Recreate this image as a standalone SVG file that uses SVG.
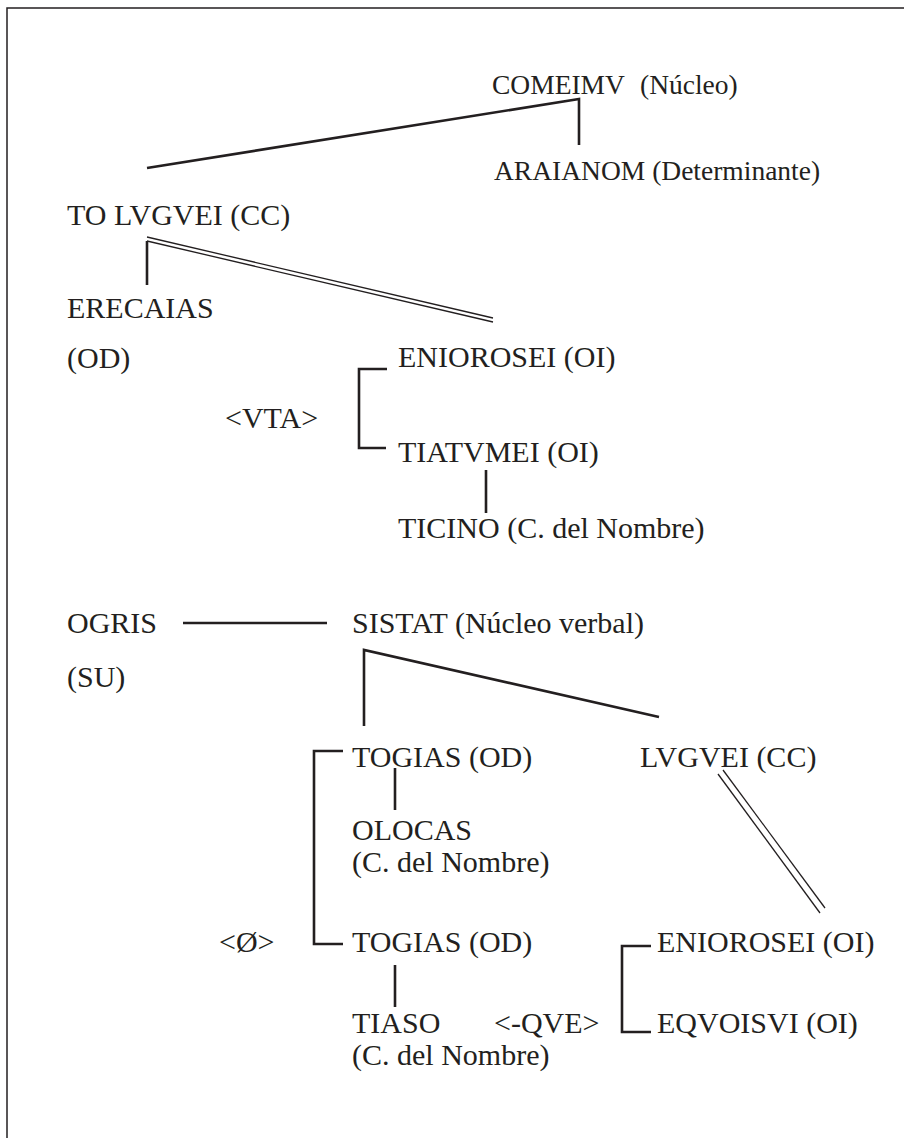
<svg xmlns="http://www.w3.org/2000/svg" width="904" height="1138" viewBox="0 0 904 1138">
<style>
text{font-family:"Liberation Serif","Times New Roman",serif;font-size:30px;fill:#231f20}
.t{font-size:27.5px}
.l{stroke:#231f20;stroke-width:2.6;fill:none;stroke-linecap:butt}
.d{stroke:#231f20;stroke-width:1.3;fill:none}
</style>
<rect x="7" y="8" width="920" height="1150" fill="#fff" stroke="#231f20" stroke-width="1.5"/>
<g id="connectors">
<polyline class="l" points="147,168 579,99 579,145"/>
<line class="d" x1="147" y1="237" x2="493" y2="318"/>
<line class="d" x1="147" y1="241" x2="493" y2="322"/>
<line class="l" x1="147" y1="241" x2="147" y2="285"/>
<polyline class="l" points="387,369 359,369 359,448 386,448"/>
<line class="l" x1="486" y1="470" x2="486" y2="513"/>
<line class="l" x1="183" y1="623" x2="327" y2="623"/>
<polyline class="l" points="364,726 364,650 659,717"/>
<polyline class="l" points="343,751 314,751 314,944 343,944"/>
<line class="l" x1="395" y1="768" x2="395" y2="810"/>
<line class="d" x1="718" y1="774" x2="820" y2="913"/>
<line class="d" x1="723" y1="770" x2="825" y2="908"/>
<line class="l" x1="395" y1="965" x2="395" y2="1007"/>
<polyline class="l" points="651,946 622,946 622,1032 651,1032"/>
</g>
<g id="comeimv"><text class="t" x="492" y="94">COMEIMV</text><text class="t" x="640" y="94">(Núcleo)</text></g>
<g id="araianom"><text class="t" x="494" y="180">ARAIANOM (Determinante)</text></g>
<g id="tolvgvei"><text x="67" y="225">TO LVGVEI (CC)</text></g>
<g id="erecaias"><text x="67" y="318">ERECAIAS</text><text x="67" y="368">(OD)</text></g>
<g id="eniorosei1"><text x="398" y="367">ENIOROSEI (OI)</text></g>
<g id="vta"><text x="225" y="428">&lt;VTA&gt;</text></g>
<g id="tiatvmei"><text x="398" y="462">TIATVMEI (OI)</text></g>
<g id="ticino"><text x="398" y="538">TICINO (C. del Nombre)</text></g>
<g id="ogris"><text x="67" y="633">OGRIS</text><text x="67" y="687">(SU)</text></g>
<g id="sistat"><text x="352" y="633">SISTAT (Núcleo verbal)</text></g>
<g id="togias1"><text x="352" y="767">TOGIAS (OD)</text></g>
<g id="lvgvei"><text x="640" y="767">LVGVEI (CC)</text></g>
<g id="olocas"><text x="352" y="840">OLOCAS</text><text x="352" y="872">(C. del Nombre)</text></g>
<g id="empty"><text x="219" y="952">&lt;Ø&gt;</text></g>
<g id="togias2"><text x="352" y="952">TOGIAS (OD)</text></g>
<g id="eniorosei2"><text x="657" y="952">ENIOROSEI (OI)</text></g>
<g id="tiaso"><text x="352" y="1033">TIASO</text><text x="352" y="1065">(C. del Nombre)</text></g>
<g id="qve"><text x="494" y="1033">&lt;-QVE&gt;</text></g>
<g id="eqvoisvi"><text x="657" y="1033">EQVOISVI (OI)</text></g>
</svg>
